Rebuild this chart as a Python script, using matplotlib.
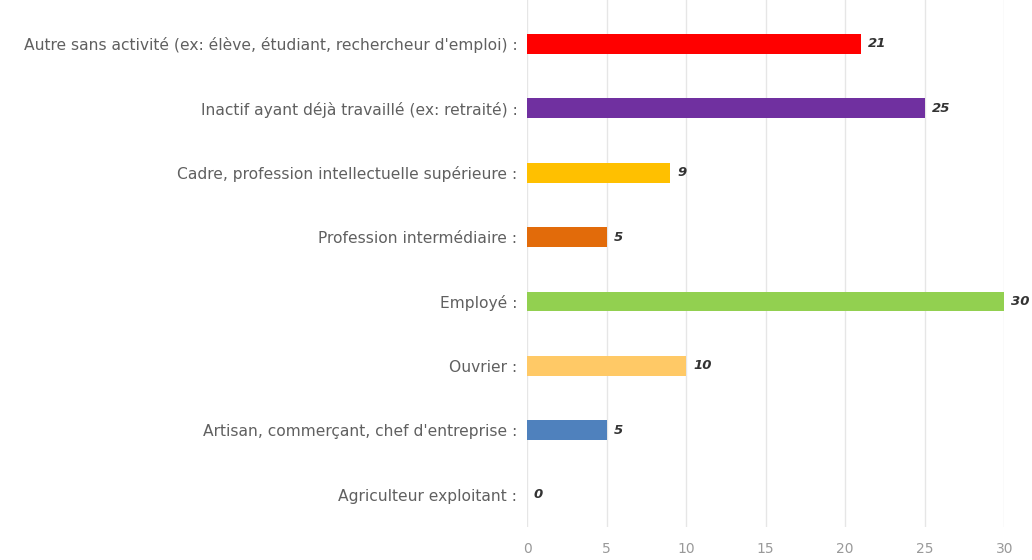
import matplotlib.pyplot as plt

plt.rcParams['font.family'] = ['DejaVu Sans']

# --- données ---
categories = [
    "Autre sans activité (ex: élève, étudiant, rechercheur d'emploi) :",
    "Inactif ayant déjà travaillé (ex: retraité) :",
    "Cadre, profession intellectuelle supérieure :",
    "Profession intermédiaire :",
    "Employé :",
    "Ouvrier :",
    "Artisan, commerçant, chef d'entreprise :",
    "Agriculteur exploitant :",
]
valeurs = [21, 25, 9, 5, 30, 10, 5, 0]
couleurs = ['#FF0000', '#7030A0', '#FFC000', '#E26B0A', '#92D050', '#FFC966', '#4F81BD', '#A5A5A5']
ticks_x = [0, 5, 10, 15, 20, 25, 30]

fig = plt.figure(figsize=(10.32, 5.6), dpi=100)
ax = fig.add_axes([0.5107, 0.059, 0.4625, 0.941])

positions = list(range(len(categories)))
ax.barh(positions, valeurs, height=0.31, color=couleurs, zorder=3)

# étiquettes de valeur à droite des barres
for pos, val in zip(positions, valeurs):
    ax.annotate(str(val), xy=(val, pos), xytext=(5, 0), textcoords='offset points',
                va='center', ha='left', fontsize=9.5, fontweight='bold', fontstyle='italic',
                color='#333333')

ax.set_yticks(positions)
ax.set_yticklabels(categories, fontsize=11.2, color='#606060')
ax.set_xticks(ticks_x)
ax.set_xticklabels([str(t) for t in ticks_x], fontsize=10, color='#999999')
ax.set_xlim(0, 30)
ax.set_ylim(7.5, -0.68)

ax.tick_params(axis='y', length=0, pad=7)
ax.tick_params(axis='x', length=0, pad=11)
ax.grid(axis='x', color='#e6e6e6', linewidth=1, zorder=0)
for spine in ax.spines.values():
    spine.set_visible(False)

fig.savefig('out.png', dpi=100)
